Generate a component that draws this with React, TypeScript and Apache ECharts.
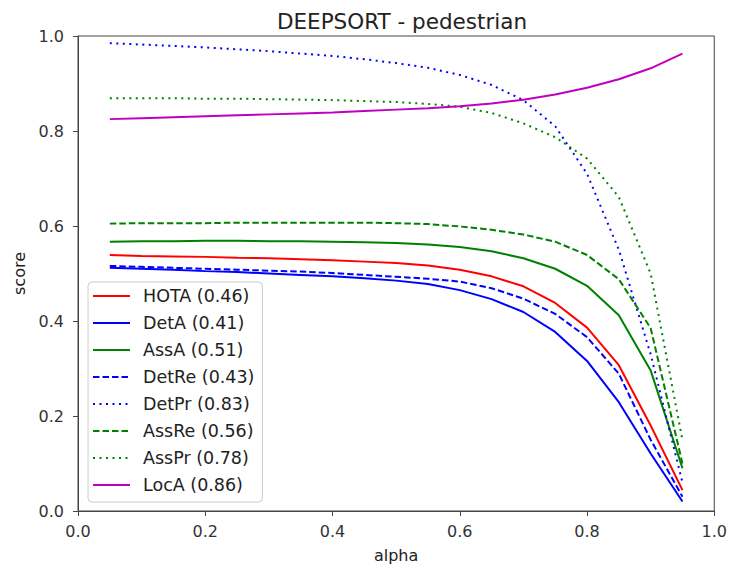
import React, { useEffect, useRef } from "react";
import * as echarts from "echarts";

const alpha = [0.05, 0.1, 0.15, 0.2, 0.25, 0.3, 0.35, 0.4, 0.45, 0.5, 0.55, 0.6, 0.65, 0.7, 0.75, 0.8, 0.85, 0.9, 0.95];

const HOTA = [0.539, 0.537, 0.536, 0.535, 0.533, 0.532, 0.53, 0.528, 0.525, 0.522, 0.517, 0.508, 0.494, 0.473, 0.438, 0.386, 0.307, 0.18, 0.044];
const DetA = [0.512, 0.51, 0.508, 0.505, 0.503, 0.5, 0.497, 0.494, 0.49, 0.485, 0.478, 0.465, 0.446, 0.419, 0.377, 0.316, 0.229, 0.121, 0.02];
const AssA = [0.567, 0.568, 0.568, 0.569, 0.569, 0.568, 0.568, 0.567, 0.566, 0.564, 0.561, 0.556, 0.547, 0.532, 0.51, 0.474, 0.412, 0.296, 0.09];
const DetRe = [0.516, 0.514, 0.512, 0.51, 0.508, 0.506, 0.504, 0.501, 0.497, 0.493, 0.489, 0.483, 0.469, 0.447, 0.415, 0.366, 0.289, 0.15, 0.03];
const DetPr = [0.985, 0.982, 0.979, 0.976, 0.972, 0.968, 0.963, 0.958, 0.951, 0.943, 0.933, 0.918, 0.897, 0.865, 0.81, 0.71, 0.55, 0.33, 0.06];
const AssRe = [0.605, 0.606, 0.606, 0.606, 0.607, 0.607, 0.607, 0.607, 0.607, 0.606, 0.604, 0.599, 0.592, 0.582, 0.567, 0.539, 0.488, 0.385, 0.1];
const AssPr = [0.869, 0.869, 0.869, 0.868, 0.868, 0.867, 0.866, 0.865, 0.863, 0.861, 0.857, 0.851, 0.838, 0.816, 0.787, 0.742, 0.661, 0.5, 0.149];
const LocA = [0.825, 0.827, 0.829, 0.831, 0.833, 0.835, 0.837, 0.839, 0.842, 0.845, 0.848, 0.852, 0.858, 0.866, 0.877, 0.891, 0.909, 0.932, 0.963];

const seriesNames = ["HOTA (0.46)", "DetA (0.41)", "AssA (0.51)", "DetRe (0.43)", "DetPr (0.83)", "AssRe (0.56)", "AssPr (0.78)", "LocA (0.86)"];
const seriesData = [HOTA, DetA, AssA, DetRe, DetPr, AssRe, AssPr, LocA];
const seriesColors = ["#ff0000", "#0000ff", "#008000", "#0000ff", "#0000ff", "#008000", "#008000", "#bf00bf"];
const seriesStyles = ["solid", "solid", "solid", "dashed", "dotted", "dashed", "dotted", "solid"];

const FONT = "DejaVu Sans";

export default function App() {
  const ref = useRef<HTMLDivElement>(null);
  useEffect(() => {
    if (!ref.current) return;
    const chart = echarts.init(ref.current, null, { renderer: "svg" });
    const dashFor = (s: string): any =>
      s === "dashed" ? [6.5, 3] : s === "dotted" ? [2, 4.5] : "solid";
    chart.setOption({
      animation: false,
      backgroundColor: "#ffffff",
      title: {
        text: "DEEPSORT - pedestrian",
        left: 397,
        textAlign: "center",
        top: 5,
        textStyle: { fontFamily: FONT, fontSize: 21.5, fontWeight: "normal", color: "#222" },
      },
      grid: {
        left: 78,
        right: 14,
        top: 36,
        bottom: 60,
        show: true,
        borderColor: "#444",
        borderWidth: 1,
        backgroundColor: "transparent",
      },
      legend: {
        orient: "vertical",
        left: 88,
        top: 282,
        padding: [5, 8, 8, 4],
        itemGap: 9,
        itemWidth: 37,
        itemHeight: 18,
        itemStyle: { opacity: 0 },
        backgroundColor: "rgba(255,255,255,0.85)",
        borderColor: "#cccccc",
        borderWidth: 1,
        borderRadius: 4,
        textStyle: { fontFamily: FONT, fontSize: 17.5, color: "#222", padding: [0, 0, 0, 8] },
        data: seriesNames.map((n) => ({ name: n })),
      },
      xAxis: {
        type: "value",
        min: 0,
        max: 1,
        interval: 0.2,
        name: "alpha",
        nameLocation: "middle",
        nameGap: 36,
        nameTextStyle: { fontFamily: FONT, fontSize: 16, color: "#222" },
        axisLine: { show: true, lineStyle: { color: "#444", width: 1 } },
        axisTick: { show: true, length: 5, lineStyle: { color: "#444" } },
        axisLabel: {
          fontFamily: FONT,
          fontSize: 16,
          color: "#333",
          margin: 12,
          formatter: (v: number) => v.toFixed(1),
        },
        splitLine: { show: false },
      },
      yAxis: {
        type: "value",
        min: 0,
        max: 1,
        interval: 0.2,
        name: "score",
        nameLocation: "middle",
        nameGap: 48,
        nameRotate: 90,
        nameTextStyle: { fontFamily: FONT, fontSize: 16, color: "#222" },
        axisLine: { show: true, lineStyle: { color: "#444", width: 1 } },
        axisTick: { show: true, length: 5, lineStyle: { color: "#444" } },
        axisLabel: {
          fontFamily: FONT,
          fontSize: 16,
          color: "#333",
          margin: 14,
          formatter: (v: number) => v.toFixed(1),
        },
        splitLine: { show: false },
      },
      series: seriesNames.map((name, i) => ({
        name,
        type: "line",
        data: alpha.map((a, j) => [a, seriesData[i][j]]),
        showSymbol: false,
        symbol: "none",
        smooth: false,
        color: seriesColors[i],
        lineStyle: { color: seriesColors[i], width: 2, type: dashFor(seriesStyles[i]) },
        z: 2 + i,
      })),
    });
    return () => chart.dispose();
  }, []);
  return <div ref={ref} style={{ position: "fixed", left: 0, top: 0, width: 730, height: 571 }} />;
}
